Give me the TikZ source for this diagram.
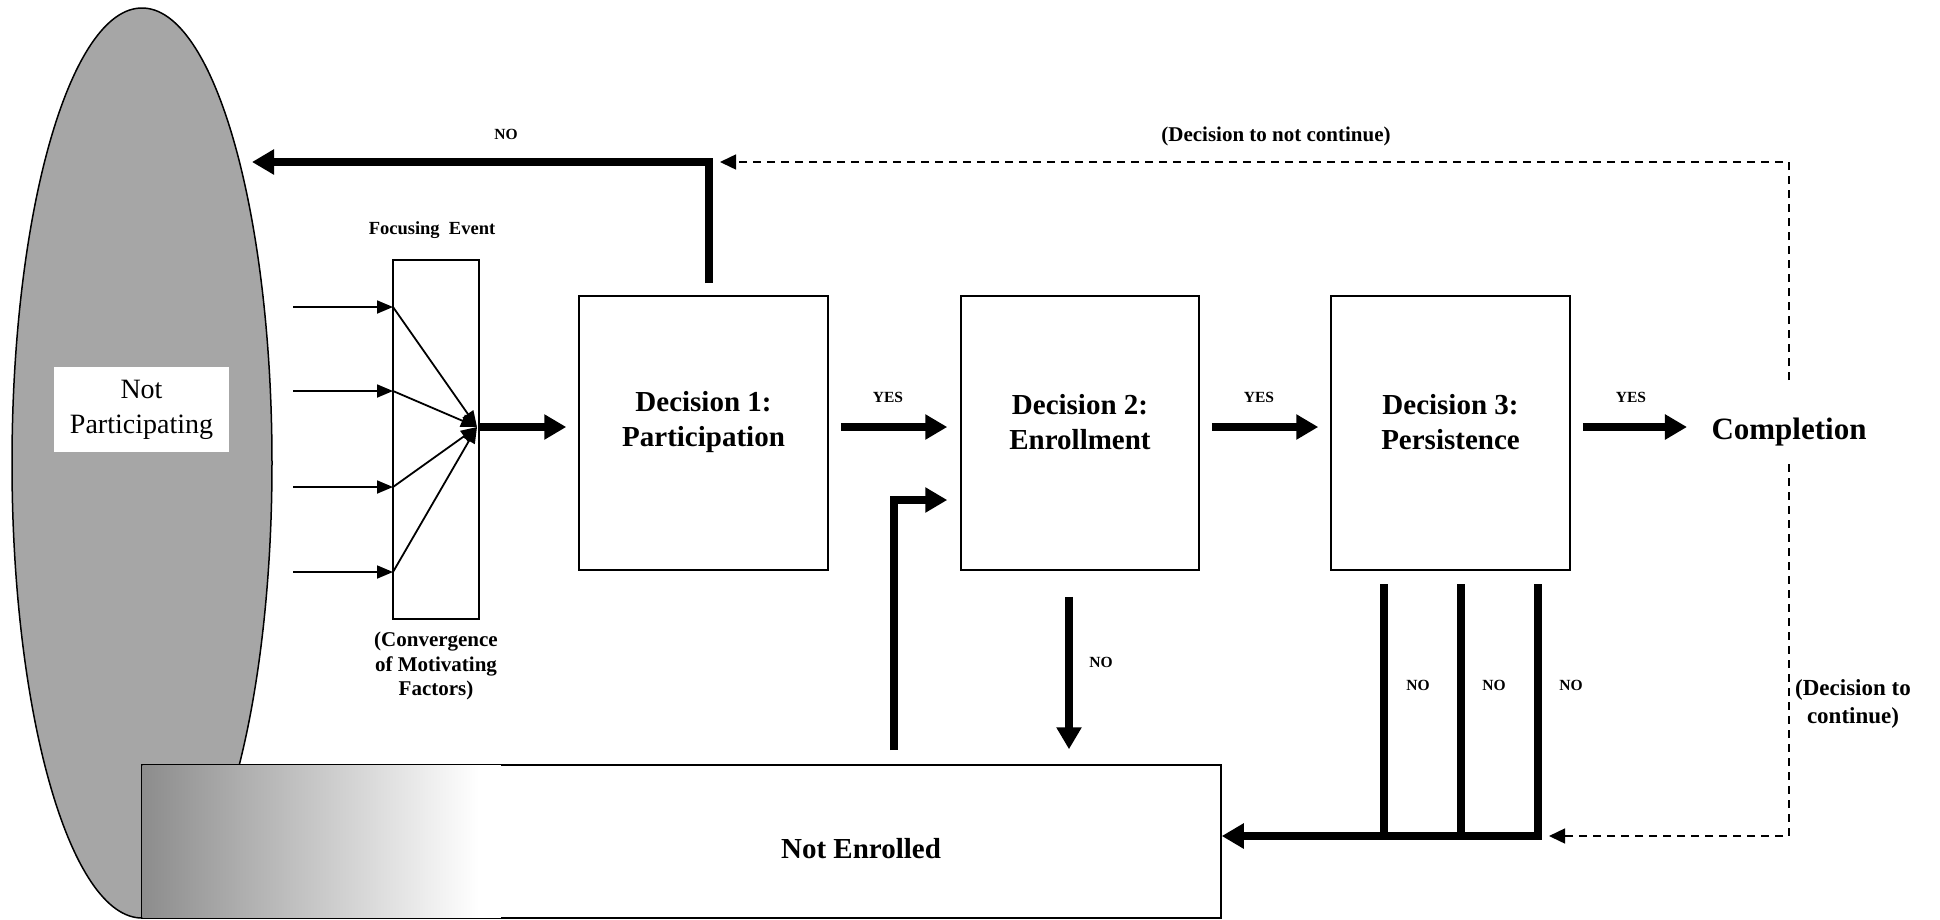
\documentclass[tikz,border=0pt]{standalone}
\usepackage{fontspec}
\setmainfont{Liberation Serif}
\usetikzlibrary{arrows.meta,shapes.geometric,calc}
\tikzset{
  bigarrow/.style={line width=7.5pt,-{Triangle[length=22pt,width=24pt]}},
  bigline/.style={line width=7.5pt},
  thinarrow/.style={line width=1.8pt,-{Triangle[length=16pt,width=13pt]}},
  dasharrow/.style={line width=1.5pt,dash pattern=on 8pt off 6pt,-{Triangle[length=16pt,width=15pt]}},
  dbox/.style={draw,line width=1.5pt,minimum height=274pt,inner sep=0pt},
  dtext/.style={font=\fontsize{29}{35}\selectfont\bfseries,align=center},
  small/.style={font=\fontsize{15.5}{18}\selectfont\bfseries},
}
\begin{document}
\begin{tikzpicture}[x=1pt,y=-1pt]
\useasboundingbox (0,0) rectangle (1940,919);
% ellipse
\node[ellipse,draw,line width=1.5pt,fill=black!35,minimum width=260pt,minimum height=910pt,inner sep=0pt] (np) at (142,463) {};
\node[fill=white,minimum width=175pt,minimum height=85pt,inner sep=0pt,align=center,font=\fontsize{28}{35}\selectfont] (nptext) at (141.5,409.5) {Not\\Participating};
% not enrolled
\node[draw,line width=1.5pt,fill=white,minimum width=1079pt,minimum height=153pt,inner sep=0pt] (ne) at (681.5,841.5) {};
\fill[left color=black!45,right color=white] ($(ne.north west)+(1,1)$) rectangle ($(ne.south west)+(338,-1)$);
\fill[white] ($(ne.north west)+(338,1)$) rectangle ($(ne.south west)+(360,-1)$);
\node[dtext] (netext) at (861,849) {Not Enrolled};
% focusing event
\node[draw,line width=1.5pt,minimum width=86pt,minimum height=359pt,inner sep=0pt] (fe) at (436,439.5) {};
\node[font=\fontsize{18.5}{22}\selectfont\bfseries] (fetitle) at (432,230) {Focusing\ \ Event};
\node[font=\fontsize{21}{24.7}\selectfont\bfseries,align=center] (fenote) at (436,666) {(Convergence\\of Motivating\\Factors)};
\coordinate (in1) at (393,307);
\coordinate (in2) at (393,391);
\coordinate (in3) at (393,487);
\coordinate (in4) at (393,572);
\coordinate (s1) at (293,307);
\coordinate (s2) at (293,391);
\coordinate (s3) at (293,487);
\coordinate (s4) at (293,572);
\coordinate (cv) at (477,427);
\foreach \i in {1,2,3,4}{
  \draw[thinarrow] (s\i) -- (in\i);
  \draw[thinarrow] (in\i) -- (cv);
}
% decision boxes
\node[dbox,minimum width=249pt] (d1) at (703.5,433) {};
\node[dbox,minimum width=238pt] (d2) at (1080,433) {};
\node[dbox,minimum width=239pt] (d3) at (1450.5,433) {};
\node[dtext] (d1t) at ([yshift=11pt]d1.center) {Decision 1:\\Participation};
\node[dtext] (d2t) at ([yshift=11pt]d2.center) {Decision 2:\\Enrollment};
\node[dtext] (d3t) at ([yshift=11pt]d3.center) {Decision 3:\\Persistence};
\node[font=\fontsize{31}{37}\selectfont\bfseries] (comp) at (1789,432) {Completion};
% main arrows
\coordinate (a0) at (479,427);
\coordinate (a1) at ($(d1.east)+(12,-6)$);
\coordinate (a2) at ($(d2.east)+(12,-6)$);
\coordinate (a3) at ($(d3.east)+(12,-6)$);
\draw[bigarrow] (a0) -- ($(d1.west |- a0)+(-12,0)$);
\draw[bigarrow] (a1) -- ($(d2.west |- a1)+(-13,0)$);
\draw[bigarrow] (a2) -- ($(d3.west |- a2)+(-12,0)$);
\draw[bigarrow] (a3) -- ($(comp.west |- a3)+(-21,0)$);
\node[small] (y1) at (888,397) {YES};
\node[small] (y2) at (1259,397) {YES};
\node[small] (y3) at (1631,397) {YES};
% NO from decision 1 back to not participating
\coordinate (n1a) at (709,283);
\coordinate (n1b) at (709,162);
\coordinate (n1c) at (252,162);
\draw[bigline] (n1a) -- ([yshift=-3.75pt]n1b);
\draw[bigarrow] ([xshift=3.75pt]n1b) -- (n1c);
\node[small] (no1) at (506,134) {NO};
% dashed decision to not continue
\coordinate (c1) at (1789,380);
\coordinate (c2) at (1789,162);
\coordinate (c3) at (720,162);
\draw[dasharrow] (c1) -- (c2) -- (c3);
\node[font=\fontsize{21}{25}\selectfont\bfseries] (dnc) at (1276,136) {(Decision to not continue)};
% dashed decision to continue
\coordinate (c4) at (1789,464);
\coordinate (c5) at (1789,836);
\coordinate (c6) at (1549,836);
\draw[dasharrow] (c4) -- (c5) -- (c6);
\node[font=\fontsize{23}{28.5}\selectfont\bfseries,align=center] (dc) at (1853,704) {(Decision to\\continue)};
% decision 2 NO
\draw[bigarrow] ($(d2.south)+(-11,26)$) -- ($(ne.north)+(387.5,-15)$);
\node[small] (no2) at (1101,662) {NO};
% return to decision 2
\coordinate (r1) at (894,750);
\coordinate (r2) at (894,500);
\draw[bigline] (r1) -- ([yshift=-3.75pt]r2);
\draw[bigarrow] ([xshift=-3.75pt]r2) -- ($(d2.west |- r2)+(-13,0)$);
% decision 3 NO lines
\coordinate (t1) at (1384,584);
\coordinate (t2) at (1461,584);
\coordinate (t3) at (1538,584);
\coordinate (b1) at (1384,836);
\coordinate (b2) at (1461,836);
\coordinate (b3) at (1538,836);
\draw[bigline] (t1) -- (b1);
\draw[bigline] (t2) -- (b2);
\draw[bigline] (t3) -- ([yshift=-3.75pt]b3);
\draw[bigarrow] ([xshift=3.75pt]b3) -- (ne.east |- b3);
\node[small] (no3) at (1418,685) {NO};
\node[small] (no4) at (1494,685) {NO};
\node[small] (no5) at (1571,685) {NO};
\end{tikzpicture}
\end{document}
